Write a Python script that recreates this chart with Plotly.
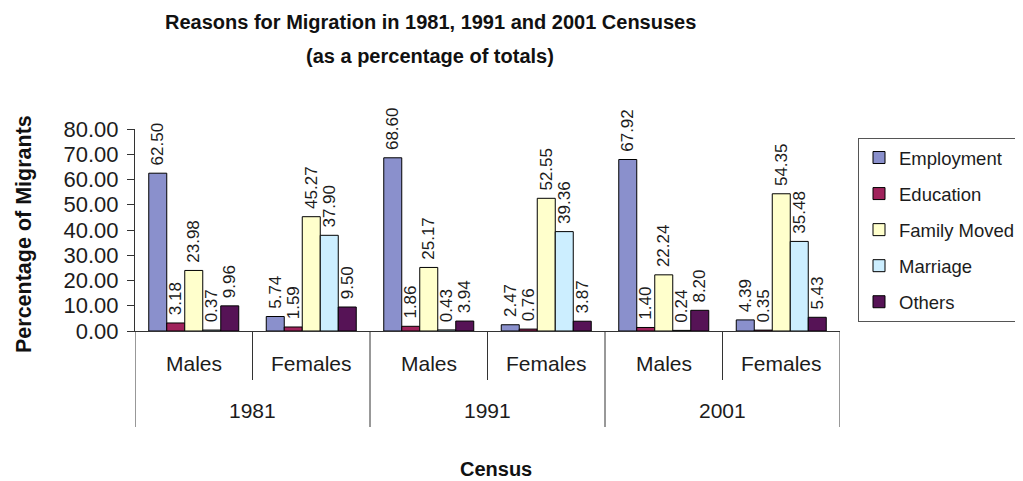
import plotly.graph_objects as go

years = ["1981", "1981", "1991", "1991", "2001", "2001"]
sexes = ["Males", "Females", "Males", "Females", "Males", "Females"]
reasons = ["Employment", "Education", "Family Moved", "Marriage", "Others"]
employment = [62.50, 5.74, 68.60, 2.47, 67.92, 4.39]
education = [3.18, 1.59, 1.86, 0.76, 1.40, 0.35]
family_moved = [23.98, 45.27, 25.17, 52.55, 22.24, 54.35]
marriage = [0.37, 37.90, 0.43, 39.36, 0.24, 35.48]
others = [9.96, 9.50, 3.94, 3.87, 8.20, 5.43]
series = [employment, education, family_moved, marriage, others]
colors = ["#8a90cc", "#a0235c", "#ffffcc", "#cceeff", "#561356"]
y_ticks = [0, 10, 20, 30, 40, 50, 60, 70, 80]

FONT = "Liberation Sans, Arial, sans-serif"
TXT = "#1c1c1c"
LINE = "#333333"

cats = [f"{y} {s}" for y, s in zip(years, sexes)]

# The page body has an 8px margin, so the figure is drawn offset by (8, 8).
OFF = 8
W, H = 1023 - OFF, 481 - OFF
# plot area in window pixels: x 135..840, y 129..331
L = 135 - OFF
T = 129 - OFF
R = W - (840 - OFF)
B = H - (331 - OFF)
PH = H - T - B
PW = W - L - R

def py(pix):  # window pixel y -> paper y
    return (H - B - (pix - OFF)) / PH

def px(pix):  # window pixel x -> paper x
    return ((pix - OFF) - L) / PW

fig = go.Figure()
for name, vals, col in zip(reasons, series, colors):
    fig.add_trace(go.Bar(
        name=name, legendgroup=name,
        x=cats, y=vals,
        marker=dict(color=col, line=dict(color="black", width=1)),
        text=["\u00a0" + f"{v:.2f}" for v in vals],
        textposition="outside", textangle=-90, constraintext="none",
        textfont=dict(family=FONT, size=17, color=TXT),
        cliponaxis=False,
    ))

annotations = [
    dict(text="<b>Reasons for Migration in 1981, 1991 and 2001 Censuses</b>",
         xref="paper", yref="paper", x=px(430), y=py(22),
         xanchor="center", yanchor="middle", showarrow=False,
         font=dict(family=FONT, size=20, color="#111")),
    dict(text="<b>(as a percentage of totals)</b>",
         xref="paper", yref="paper", x=px(430), y=py(56),
         xanchor="center", yanchor="middle", showarrow=False,
         font=dict(family=FONT, size=20, color="#111")),
    dict(text="<b>Percentage of Migrants</b>", textangle=-90,
         xref="paper", yref="paper", x=px(24), y=py(234),
         xanchor="center", yanchor="middle", showarrow=False,
         font=dict(family=FONT, size=21.5, color="#111")),
    dict(text="<b>Census</b>",
         xref="paper", yref="paper", x=px(496), y=py(469),
         xanchor="center", yanchor="middle", showarrow=False,
         font=dict(family=FONT, size=20, color="#111")),
]
for c, s in zip(cats, sexes):
    annotations.append(dict(text=s, xref="x", yref="paper", x=c, y=py(363),
                            xanchor="center", yanchor="middle", showarrow=False,
                            font=dict(family=FONT, size=21, color=TXT)))
for i in range(0, len(years), 2):
    annotations.append(dict(text=years[i], xref="x", yref="paper", x=i + 0.5, y=py(410),
                            xanchor="center", yanchor="middle", showarrow=False,
                            font=dict(family=FONT, size=21, color=TXT)))

shapes = []
for k in range(len(cats) + 1):
    xb = k - 0.5
    long_tick = (k % 2 == 0)
    shapes.append(dict(type="line", xref="x", yref="paper", x0=xb, x1=xb,
                       y0=0, y1=py(427 if long_tick else 380),
                       line=dict(color=LINE, width=1)))

fig.update_layout(
    width=W, height=H,
    paper_bgcolor="white", plot_bgcolor="white",
    margin=dict(l=L, r=R, t=T, b=B, autoexpand=False),
    barmode="group", bargap=0.234, bargroupgap=0,
    font=dict(family=FONT, color=TXT),
    annotations=annotations, shapes=shapes,
    legend=dict(
        xref="container", yref="container",
        x=(858 - OFF) / W, xanchor="left", y=(H - (138 - OFF)) / H, yanchor="top",
        bordercolor="#555", borderwidth=1, bgcolor="white",
        font=dict(family=FONT, size=18.5, color=TXT),
        tracegroupgap=9, itemwidth=30,
    ),
    showlegend=True,
)
fig.update_yaxes(
    range=[0, 80], tickvals=y_ticks, tickformat=".2f",
    showgrid=False, zeroline=False, automargin=False,
    showline=True, linecolor=LINE, linewidth=1,
    ticks="outside", ticklen=7, tickcolor=LINE, ticklabelstandoff=4,
    tickfont=dict(family=FONT, size=22, color=TXT),
)
fig.update_xaxes(
    type="category", range=[-0.5, len(cats) - 0.5],
    showgrid=False, automargin=False, showticklabels=False, ticks="",
    showline=True, linecolor=LINE, linewidth=1,
)

fig.write_html("out.html")
